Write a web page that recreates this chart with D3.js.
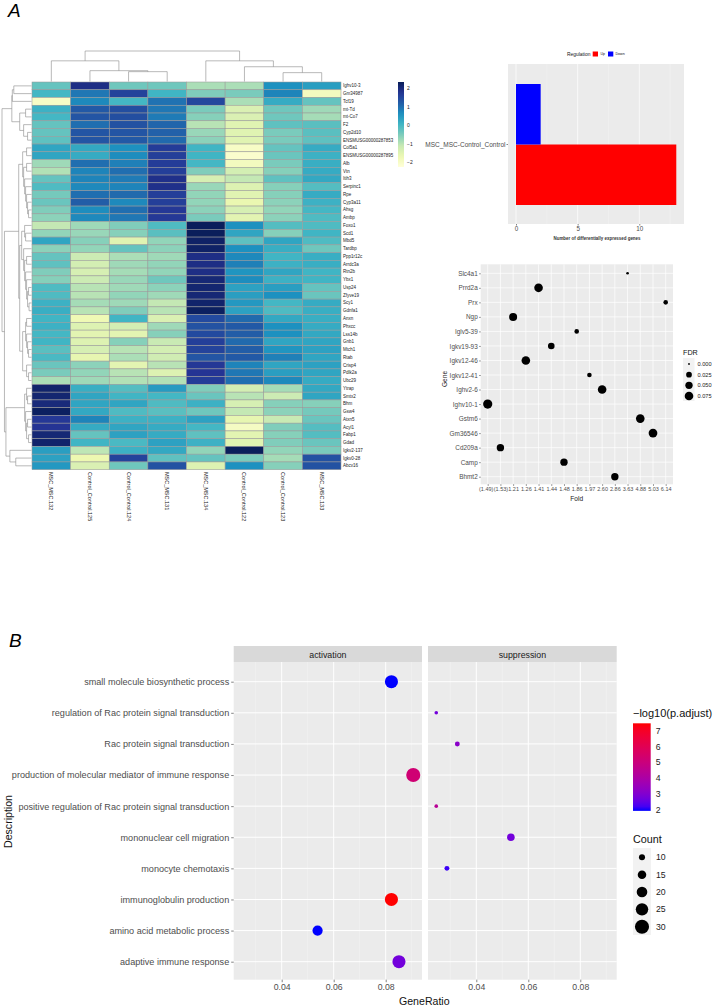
<!DOCTYPE html>
<html>
<head>
<meta charset="utf-8">
<script src="https://cdn.jsdelivr.net/npm/d3@7/dist/d3.min.js"></script>
<style>
html,body{margin:0;padding:0;background:#fff}
svg{display:block}
text{font-family:"Liberation Sans",Arial,sans-serif}
</style>
</head>
<body>
<svg id="fig" width="713" height="1007"><defs></defs></svg>
<script>
// ---------- heatmap of differentially expressed genes ----------
const heatSamples = ["MSC_MSC.132","Control_Control.125","Control_Control.124","MSC_MSC.131","MSC_MSC.134","Control_Control.122","Control_Control.123","MSC_MSC.133"];
const heatGenes = ["Ighv10-3","Gm34987","Tcf19","mt-Td","mt-Co7","F2","Cyp2d10","ENSMUSG00000287853","Col5a1","ENSMUSG00000287895","Alb","Vtn","Itih3","Serpinc1","Rpe","Cyp3a11","Ahsg","Ambp","Foxo1","Scd1","Mbd5","Tardbp","Ppp1r12c","Arrdc3a","Rtn2b","Ybx1","Usp24","Zfyve19","Scy1","Gdnfa1","Anxn","Phxcc","Lss14b","Gnb1","Mtch1","Rtab","Crisp4","Pdlk2a","Ubc29","Ytrap","Smtx2","Bhm","Gsw4","Atxn5","Acyl1","Fabp1","Gdad","Igkv2-137","Igkv0-28","Abcv16"];
const heatValues = [
[-0.3,1.9,-0.4,-0.4,-0.9,-0.9,0.6,0.4],
[0.0,0.9,1.55,0.05,-0.55,-0.5,0.75,-1.9],
[-2.0,0.7,0.0,0.95,1.5,-0.9,0.2,-0.3],
[0.1,1.25,1.4,0.9,-0.5,-1.4,-0.4,-0.8],
[0.0,1.3,1.4,0.85,-0.6,-1.4,-0.4,-0.85],
[-0.3,1.0,1.35,1.1,-1.0,-1.5,-0.25,-0.2],
[-0.3,1.3,1.3,1.15,-0.75,-1.5,-0.5,-0.2],
[-0.25,1.3,1.25,1.05,-0.65,-1.5,-0.5,-0.25],
[0.3,0.25,0.6,1.65,0.05,-2.0,-0.3,0.2],
[0.3,0.2,0.65,1.6,0.05,-2.1,-0.35,0.1],
[-0.8,1.0,0.8,1.65,0.0,-1.9,-0.5,0.15],
[-0.95,0.75,1.0,1.6,-0.55,-1.3,-0.6,0.2],
[-0.3,0.75,0.85,1.85,-1.35,-1.1,-0.25,0.25],
[-0.1,0.7,0.75,1.85,-0.75,-1.45,-0.6,-0.15],
[-0.45,1.0,1.05,1.6,-0.7,-1.5,-0.6,0.2],
[-0.35,1.2,0.7,1.6,-0.7,-1.65,-0.65,0.1],
[-0.55,0.65,1.0,1.7,-0.65,-1.35,-0.7,0.0],
[-0.65,0.7,0.9,1.7,-0.5,-1.55,-0.65,-0.1],
[-1.1,-0.8,-0.55,-0.1,2.3,0.6,-0.15,-0.1],
[-0.7,-0.75,-0.6,-0.2,2.3,0.3,-0.6,0.05],
[0.3,-0.6,-1.5,-0.7,2.2,-0.25,0.3,-0.1],
[-0.65,-0.7,-0.3,-0.65,2.2,0.6,0.15,-0.4],
[-0.3,-1.2,-0.9,-0.8,1.9,0.7,0.05,0.15],
[-0.25,-1.3,-0.8,-0.7,1.9,0.8,0.1,0.15],
[-0.55,-1.35,-0.85,-0.7,1.9,0.55,0.3,0.05],
[-0.6,-1.2,-0.75,-0.4,2.05,0.65,0.1,0.05],
[-0.1,-1.0,-0.8,-0.65,2.1,0.35,0.4,-0.3],
[-0.1,-1.0,-0.7,-0.8,2.05,0.4,0.6,-0.35],
[0.1,-0.85,-0.8,-1.1,2.15,0.5,0.0,0.2],
[0.15,-1.0,-0.55,-1.0,2.25,0.35,-0.1,0.15],
[0.05,-1.75,0.05,-1.4,1.45,1.05,0.25,0.15],
[0.1,-1.45,-1.3,-0.8,1.35,1.25,0.6,0.2],
[0.0,-1.55,-1.55,-0.6,1.45,1.2,0.6,0.25],
[0.05,-1.45,-0.6,-1.15,1.6,1.05,0.3,0.3],
[-0.2,-1.35,-1.0,-1.3,1.55,1.2,0.55,0.35],
[-0.05,-1.6,-0.9,-1.25,1.3,1.25,0.8,0.3],
[-0.35,-0.65,-1.55,-1.0,1.7,0.75,0.3,0.35],
[-0.5,-0.7,-1.0,-1.45,1.75,0.9,0.4,0.3],
[-0.9,-0.8,-0.95,-0.95,1.65,1.0,0.7,0.2],
[2.15,0.15,-0.15,0.45,-0.55,-1.3,-0.85,0.25],
[2.1,0.3,0.05,0.0,-0.35,-1.0,-1.2,0.3],
[2.0,0.3,0.3,-0.1,0.1,-1.35,-0.6,-0.6],
[2.25,0.25,-0.1,-0.2,-0.4,-1.1,-0.65,-0.45],
[1.7,0.75,0.1,0.1,0.35,-1.6,-1.15,-0.35],
[1.75,0.2,0.3,0.2,0.0,-1.95,-0.55,-0.15],
[2.05,-0.3,0.35,0.2,-0.25,-1.55,-0.6,-0.15],
[2.15,0.05,-0.05,0.35,0.1,-1.5,-0.55,-0.35],
[0.4,-1.05,0.1,0.25,-0.7,2.3,-0.7,-0.5],
[0.35,-1.7,1.55,-0.25,-0.3,-0.5,-0.85,1.35],
[0.5,-1.4,-0.4,1.35,-1.45,0.6,-0.6,1.35]
];
const heatPalette = ["#ffffd9","#edf8b1","#c7e9b4","#7fcdbb","#41b6c4","#1d91c0","#225ea8","#253494","#081d58"];
const heatTicks = [2,1,0,-1,-2];

// Clustering trees: [merge height, left branch, right branch]; numbers are leaf indices.
const sampleTree = [31,[21,0,[11,1,[10,2,3]]],[21,4,[15,5,[9,6,7]]]];
const geneTree = [30,
  [20,[19.5,[18,0,1],2],[12,[6,3,4],[8,5,[4,6,7]]]],
  [27.5,
    [13,
      [9,[5,8,9],[8,[5,10,11],[7,12,[6,13,[5,14,[4,15,[3,16,17]]]]]]],
      [12,[10,[7,18,[6,19,20]],[8,21,[7,[5,22,23],[6,24,[5,25,[4,[3,26,27],[2.5,28,29]]]]]]],
          [9,[6,[5,30,31],[5,32,[4,33,[3,34,35]]]],[5,36,[3,37,38]]]]],
    [26,[7,[5,39,[4,40,41]],[6,42,[5,[4,43,44],[3,45,46]]]],[22,47,[16,48,49]]]]];

// ---------- differentially expressed gene counts ----------
const barComparison = "MSC_MSC-Control_Control";
const regulationLabels = ["Up","Down"];
const regulationCounts = [13,2];
const barTicks = [0,5,10];

// ---------- fold change dot plot ----------
const dotGenes = ["Slc4a1","Prrd2a","Prx","Ngp","Iglv5-39","Igkv19-93","Igkv12-46","Igkv12-41","Ighv2-6","Ighv10-1","Gstm6","Gm36546","Cd209a","Camp","Bhmt2"];
const foldLabels = ["(1.49)","(1.53)","1.21","1.26","1.41","1.44","1.48","1.86","1.97","2.60","2.86","3.63","4.88","5.03","6.14"];
const dotFold = ["3.63","1.41","6.14","1.21","1.86","1.44","1.26","1.97","2.60","(1.49)","4.88","5.03","(1.53)","1.48","2.86"];
const dotFDR = [0.0003,0.067,0.0094,0.055,0.0094,0.032,0.067,0.0094,0.067,0.08,0.067,0.07,0.044,0.044,0.044];
const fdrLegend = [0,0.025,0.05,0.075];
const fdrLegendLabels = ["0.000","0.025","0.050","0.075"];

// ---------- GO enrichment dot plot ----------
const goTerms = ["small molecule biosynthetic process","regulation of Rac protein signal transduction","Rac protein signal transduction","production of molecular mediator of immune response","positive regulation of Rac protein signal transduction","mononuclear cell migration","monocyte chemotaxis","immunoglobulin production","amino acid metabolic process","adaptive immune response"];
const goFacets = ["activation","suppression"];
const goFacetOf = [0,1,1,0,1,1,1,0,0,0];
const goRatio = [0.0822,0.0246,0.0327,0.0906,0.0246,0.0533,0.0287,0.0822,0.0538,0.0851];
const goPadj = [2.0,2.8,3.2,5.2,4.4,2.8,2.2,7.4,2.0,2.8];
const goCount = [27,6,8,30,6,13,8,27,19,27];
const ratioTicks = [0.04,0.06,0.08];
const ratioMinor = [0.03,0.05,0.07,0.09];
const padjTicks = [7,6,5,4,3,2];
const countLegend = [10,15,20,25,30];

const svg = d3.select("#fig");
const defs = svg.select("defs");
const grey = "#4d4d4d";

function styleAxis(g, size, color, tickColor) {
  g.select(".domain").remove();
  g.selectAll(".tick text").attr("font-size", size).attr("fill", color);
  g.selectAll(".tick line").attr("stroke", tickColor || "#333").attr("stroke-width", 0.6);
}

function label(x, y, str, size, opts = {}) {
  const t = svg.append("text")
    .attr("x", x).attr("y", y).attr("font-size", size)
    .attr("fill", opts.fill || "#000")
    .attr("text-anchor", opts.anchor || "start")
    .attr("dominant-baseline", "central")
    .text(str);
  if (opts.style) t.attr("font-style", opts.style);
  if (opts.weight) t.attr("font-weight", opts.weight);
  if (opts.rotate !== undefined) t.attr("transform", `rotate(${opts.rotate},${x},${y})`);
  return t;
}

// Vertical gradient whose stops are sampled from a colour scale (bottom to top).
function verticalGradient(id, domain, color) {
  const g = defs.append("linearGradient").attr("id", id)
    .attr("x1", 0).attr("x2", 0).attr("y1", 1).attr("y2", 0);
  d3.range(0, 1.0001, 0.05).forEach(t => {
    g.append("stop").attr("offset", t)
      .attr("stop-color", color(domain[0] + t * (domain[1] - domain[0])));
  });
}

label(8, 10, "A", 19, {style: "italic"});
label(9, 640, "B", 19, {style: "italic"});

// ===== Panel A: heatmap =====
(function () {
  const x = d3.scaleBand(heatSamples, [32, 341]);
  const y = d3.scaleBand(heatGenes, [82, 469.7]);
  const color = d3.scaleLinear()
    .domain(d3.range(9).map(i => -2.27 + i * 4.6 / 8))
    .range(heatPalette);

  const cells = heatValues.flatMap((row, r) => row.map((v, c) => ({r, c, v})));
  svg.append("g").selectAll("rect").data(cells).join("rect")
    .attr("x", d => x(heatSamples[d.c]))
    .attr("y", d => y(heatGenes[d.r]))
    .attr("width", x.bandwidth())
    .attr("height", y.bandwidth())
    .attr("fill", d => color(d.v))
    .attr("stroke", "#9a9a9a")
    .attr("stroke-width", 0.55);

  heatGenes.forEach(g => label(343, y(g) + y.bandwidth() / 2, g, 4.5, {fill: "#222"}));
  heatSamples.forEach(s => label(x(s) + x.bandwidth() / 2, 472, s, 5.5, {fill: "#222", rotate: 90}));

  // Trees are walked recursively: a node sits midway between its two branches.
  function walk(node, leafPos, out) {
    if (typeof node === "number") return {pos: leafPos(node), h: 0};
    const a = walk(node[1], leafPos, out), b = walk(node[2], leafPos, out);
    out.push({a, b, h: node[0]});
    return {pos: (a.pos + b.pos) / 2, h: node[0]};
  }
  const line = d3.line();

  const colSegs = [];
  walk(sampleTree, i => x(heatSamples[i]) + x.bandwidth() / 2, colSegs);
  const colH = d3.scaleLinear([0, 31], [81.5, 51]);
  svg.append("g").selectAll("path").data(colSegs).join("path")
    .attr("fill", "none").attr("stroke", "#8a8a8a").attr("stroke-width", 0.6)
    .attr("d", d => line([[d.a.pos, colH(d.a.h)], [d.a.pos, colH(d.h)], [d.b.pos, colH(d.h)], [d.b.pos, colH(d.b.h)]]));

  const rowSegs = [];
  walk(geneTree, i => y(heatGenes[i]) + y.bandwidth() / 2, rowSegs);
  const rowH = d3.scaleLinear([0, 30], [31.5, 2]);
  svg.append("g").selectAll("path").data(rowSegs).join("path")
    .attr("fill", "none").attr("stroke", "#8a8a8a").attr("stroke-width", 0.6)
    .attr("d", d => line([[rowH(d.a.h), d.a.pos], [rowH(d.h), d.a.pos], [rowH(d.h), d.b.pos], [rowH(d.b.h), d.b.pos]]));

  // Colour key
  const keyY = d3.scaleLinear([-2.27, 2.33], [167, 82]);
  verticalGradient("heatKey", [-2.27, 2.33], color);
  svg.append("rect").attr("x", 398).attr("y", keyY(2.33)).attr("width", 6)
    .attr("height", keyY(-2.27) - keyY(2.33)).attr("fill", "url(#heatKey)");
  const g = svg.append("g").attr("transform", "translate(404,0)")
    .call(d3.axisRight(keyY).tickValues(heatTicks).tickSize(0).tickPadding(3).tickFormat(d3.format("d")));
  styleAxis(g, 5, "#222");
})();

// ===== Panel A: bar chart =====
(function () {
  const left = 508, right = 684, top = 64, bottom = 224;
  const x = d3.scaleLinear([0, 10], [516, 639.3]);
  svg.append("rect").attr("x", left).attr("y", top).attr("width", right - left).attr("height", bottom - top).attr("fill", "#ebebeb");
  const minor = [2.5, 7.5, 12.5];
  svg.append("g").selectAll("line").data(minor).join("line")
    .attr("x1", d => x(d)).attr("x2", d => x(d)).attr("y1", top).attr("y2", bottom)
    .attr("stroke", "#f4f4f4").attr("stroke-width", 0.4);
  svg.append("g").selectAll("line").data(barTicks).join("line")
    .attr("x1", d => x(d)).attr("x2", d => x(d)).attr("y1", top).attr("y2", bottom)
    .attr("stroke", "#fff").attr("stroke-width", 0.7);

  const y = d3.scaleBand([barComparison], [84, 205]);
  const mid = y(barComparison) + y.bandwidth() / 2;
  const fills = ["#ff0000", "#0000ff"];
  // Up sits below the category centre, Down above it.
  svg.append("g").selectAll("rect").data(regulationCounts).join("rect")
    .attr("x", x(0))
    .attr("y", (d, i) => i === 0 ? mid : y(barComparison))
    .attr("width", d => x(d) - x(0))
    .attr("height", y.bandwidth() / 2)
    .attr("fill", (d, i) => fills[i]);

  const gx = svg.append("g").attr("transform", `translate(0,${bottom})`)
    .call(d3.axisBottom(x).tickValues(barTicks).tickSize(1.5).tickPadding(1.5));
  styleAxis(gx, 6.3, grey);
  const gy = svg.append("g").attr("transform", `translate(${left},0)`)
    .call(d3.axisLeft(y).tickSize(1.5).tickPadding(1));
  styleAxis(gy, 6.5, grey);

  label(597, 238, "Number of differentially expressed genes", 4.45, {anchor: "middle", weight: "bold", fill: "#333"});
  label(567, 54, "Regulation", 4.9, {fill: "#111"});
  const lx = [592.7, 608], tx = [600.5, 615.5];
  regulationLabels.forEach((s, i) => {
    svg.append("rect").attr("x", lx[i]).attr("y", 51.5).attr("width", 5.3).attr("height", 5).attr("fill", fills[i]);
    label(tx[i], 53.8, s, 3.6, {fill: "#111"});
  });
})();

// ===== Panel A: fold change dots =====
(function () {
  const left = 480.7, right = 673, top = 264.3, bottom = 484.3;
  const x = d3.scalePoint(foldLabels, [487.7, 665.7]);
  const y = d3.scalePoint(dotGenes, [273.3, 476.7]);
  const r = d3.scaleSqrt([0, 0.08], [1.1, 4.6]);
  svg.append("rect").attr("x", left).attr("y", top).attr("width", right - left).attr("height", bottom - top).attr("fill", "#ebebeb");
  svg.append("g").selectAll("line").data(foldLabels).join("line")
    .attr("x1", d => x(d)).attr("x2", d => x(d)).attr("y1", top).attr("y2", bottom)
    .attr("stroke", "#fff").attr("stroke-width", 0.7);
  svg.append("g").selectAll("line").data(dotGenes).join("line")
    .attr("y1", d => y(d)).attr("y2", d => y(d)).attr("x1", left).attr("x2", right)
    .attr("stroke", "#fff").attr("stroke-width", 0.7);
  svg.append("g").selectAll("circle").data(dotGenes).join("circle")
    .attr("cx", (d, i) => x(dotFold[i]))
    .attr("cy", d => y(d))
    .attr("r", (d, i) => r(dotFDR[i]))
    .attr("fill", "#000");

  const gx = svg.append("g").attr("transform", `translate(0,${bottom})`)
    .call(d3.axisBottom(x).tickSize(1.5).tickPadding(1));
  styleAxis(gx, 5.5, grey);
  // The first bracketed label is wider than the tick spacing, so it is nudged left.
  gx.selectAll(".tick text").filter((d, i) => i === 0).attr("dx", -2);
  const gy = svg.append("g").attr("transform", `translate(${left},0)`)
    .call(d3.axisLeft(y).tickSize(1.5).tickPadding(1.5));
  styleAxis(gy, 6.4, grey);

  label(576.7, 498, "Fold", 6.6, {anchor: "middle", fill: "#222"});
  label(444, 379, "Gene", 6.6, {anchor: "middle", fill: "#222", rotate: -90});

  label(683, 352, "FDR", 7.2, {fill: "#111"});
  svg.append("rect").attr("x", 683).attr("y", 358).attr("width", 11.5).attr("height", 43).attr("fill", "#f2f2f2");
  const ly = d3.scalePoint(fdrLegendLabels, [364, 396]);
  const lr = d3.scaleSqrt([0, 0.08], [0.9, 4.4]);
  fdrLegend.forEach((v, i) => {
    svg.append("circle").attr("cx", 689).attr("cy", ly(fdrLegendLabels[i])).attr("r", lr(v)).attr("fill", "#000");
    label(697.5, ly(fdrLegendLabels[i]), fdrLegendLabels[i], 5.6, {fill: "#222"});
  });
})();

// ===== Panel B: GO enrichment =====
(function () {
  const top = 662, bottom = 979.7, stripTop = 646;
  const panels = [[233.7, 422], [428, 616.7]];
  const offsets = [281.7, 476.3];
  const y = d3.scalePoint(goTerms, [681.7, 961.7]);
  const size = d3.scalePow().exponent(0.5).domain([6, 31]).range([1.8, 7.2]);
  const fill = d3.scaleLinear([2, 7.4], ["#0000ff", "#ff0000"]).interpolate(d3.interpolateLab);

  goFacets.forEach((name, f) => {
    const [l, r] = panels[f];
    const x = d3.scaleLinear([0.04, 0.08], [offsets[f], offsets[f] + 104]);
    svg.append("rect").attr("x", l).attr("y", stripTop).attr("width", r - l).attr("height", top - stripTop).attr("fill", "#d9d9d9");
    label((l + r) / 2, 655, name, 8.8, {anchor: "middle", fill: "#1a1a1a"});
    svg.append("rect").attr("x", l).attr("y", top).attr("width", r - l).attr("height", bottom - top).attr("fill", "#ebebeb");
    svg.append("g").selectAll("line").data(ratioMinor).join("line")
      .attr("x1", d => x(d)).attr("x2", d => x(d)).attr("y1", top).attr("y2", bottom)
      .attr("stroke", "#f5f5f5").attr("stroke-width", 0.5);
    svg.append("g").selectAll("line").data(ratioTicks).join("line")
      .attr("x1", d => x(d)).attr("x2", d => x(d)).attr("y1", top).attr("y2", bottom)
      .attr("stroke", "#fff").attr("stroke-width", 1);
    svg.append("g").selectAll("line").data(goTerms).join("line")
      .attr("y1", d => y(d)).attr("y2", d => y(d)).attr("x1", l).attr("x2", r)
      .attr("stroke", "#fff").attr("stroke-width", 1);
    const idx = goTerms.map((t, i) => i).filter(i => goFacetOf[i] === f);
    svg.append("g").selectAll("circle").data(idx).join("circle")
      .attr("cx", i => x(goRatio[i]))
      .attr("cy", i => y(goTerms[i]))
      .attr("r", i => size(goCount[i]))
      .attr("fill", i => fill(goPadj[i]));
    const gx = svg.append("g").attr("transform", `translate(0,${bottom})`)
      .call(d3.axisBottom(x).tickValues(ratioTicks).tickSize(2.5).tickPadding(2).tickFormat(d3.format(".2f")));
    styleAxis(gx, 8.7, grey);
  });

  const gy = svg.append("g").attr("transform", `translate(${panels[0][0]},0)`)
    .call(d3.axisLeft(y).tickSize(2.5).tickPadding(2));
  styleAxis(gy, 9.1, grey);

  label(424.3, 1000.5, "GeneRatio", 10.6, {anchor: "middle", fill: "#111"});
  label(8, 821.5, "Description", 10.6, {anchor: "middle", fill: "#111", rotate: -90});

  // Colour bar for -log10(p.adjust)
  label(633, 713, "\u2212log10(p.adjust)", 11, {fill: "#111"});
  const barY = d3.scaleLinear([2, 7], [809.3, 730.7]);
  const barColor = d3.scaleLinear([1.9, 7.47], ["#0000ff", "#ff0000"]).interpolate(d3.interpolateLab);
  verticalGradient("padjBar", [1.9, 7.47], barColor);
  svg.append("rect").attr("x", 633).attr("y", barY(7.47)).attr("width", 17.7)
    .attr("height", barY(1.9) - barY(7.47)).attr("fill", "url(#padjBar)");
  const gc = svg.append("g").attr("transform", "translate(650.7,0)")
    .call(d3.axisRight(barY).tickValues(padjTicks).tickSize(0).tickPadding(5).tickFormat(d3.format("d")));
  styleAxis(gc, 8.7, "#222");

  // Size key for Count
  label(633, 838.5, "Count", 10.8, {fill: "#111"});
  svg.append("rect").attr("x", 633).attr("y", 848).attr("width", 18).attr("height", 87).attr("fill", "#f2f2f2");
  const keyY = d3.scalePoint(countLegend, [857.3, 926.7]);
  countLegend.forEach(c => {
    svg.append("circle").attr("cx", 642).attr("cy", keyY(c)).attr("r", size(c)).attr("fill", "#000");
    label(656, keyY(c), c, 8.7, {fill: "#222"});
  });
})();
</script>
</body>
</html>
